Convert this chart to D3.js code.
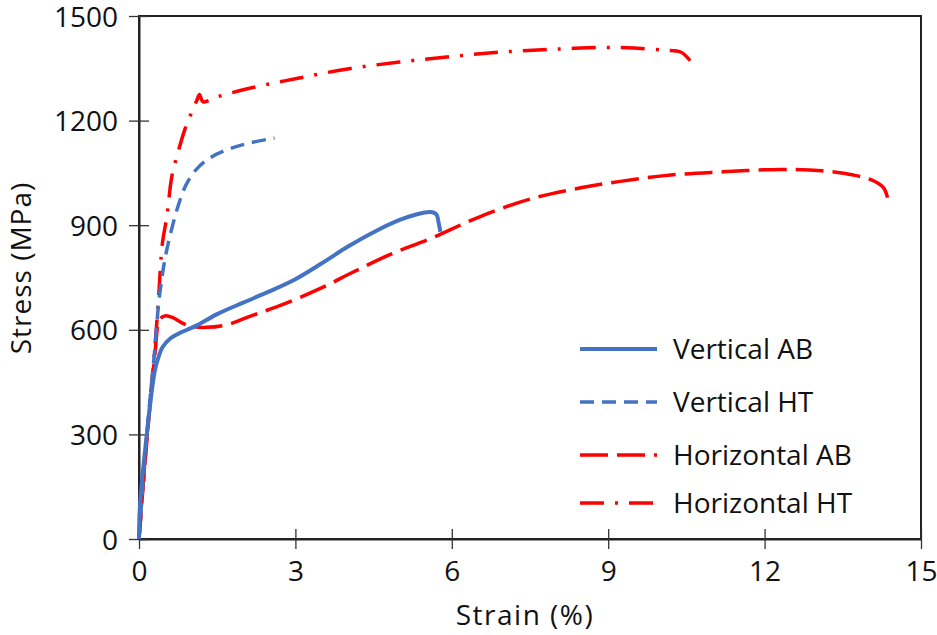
<!DOCTYPE html>
<html><head><meta charset="utf-8">
<script src="https://cdn.jsdelivr.net/npm/d3@7"></script>
<style>
body{margin:0;background:#fff;}
text{font-family:"Open Sans",sans-serif;fill:#111;}
</style></head>
<body><svg id="c" width="937" height="635"></svg>
<script>
// ---- data ----
const xTicks = [0,3,6,9,12,15];
const yTicks = [0,300,600,900,1200,1500];

const vabStrain = [0,0.02,0.15,0.30,0.37,0.45,0.60,0.80,1.10,1.50,2.00,2.50,3.00,3.50,4.00,4.50,5.00,5.30,5.58,5.70,5.75,5.78];
const vabStress = [0,100,300,480,520,550,575,592,612,645,678,710,745,790,838,880,915,930,938,932,905,881];

const vhtStrain = [0,0.15,0.30,0.38,0.45,0.52,0.62,0.75,0.90,1.10,1.35,1.70,2.10,2.60];
const vhtStress = [0,300,540,680,760,820,885,955,1015,1060,1092,1117,1135,1150];

const habStrain = [0,0.15,0.30,0.40,0.50,0.65,0.80,1.00,1.30,1.70,2.10,2.80,3.50,4.10,4.80,5.60,6.50,7.50,8.50,9.20,10.20,11.20,12.30,13.10,13.70,14.05,14.28,14.37];
const habStress = [0,280,520,630,640,635,622,610,607,615,637,675,720,765,815,862,922,975,1008,1025,1044,1053,1060,1056,1044,1030,1008,972];

const hhtStrain = [0,0.15,0.30,0.37,0.45,0.53,0.63,0.75,0.88,1.00,1.12,1.16,1.23,1.50,2.10,3.00,4.00,5.00,6.00,7.00,8.00,9.00,9.50,10.05,10.40,10.60];
const hhtStress = [0,290,540,680,850,920,1040,1110,1175,1220,1262,1275,1254,1268,1292,1320,1348,1368,1384,1397,1405,1410,1408,1402,1396,1366];

const seriesNames = ["Vertical AB","Vertical HT","Horizontal AB","Horizontal HT"];

// ---- chart ----
const svg = d3.select("#c");
const x = d3.scaleLinear().domain([0,15]).range([139,921]);
const y = d3.scaleLinear().domain([0,1500]).range([539,16]);

const blue = "#4472C4", red = "#FF0000";
const styles = [
  {color:blue, dash:null, w:4},
  {color:blue, dash:"14,8", w:3.5},
  {color:red, dash:"28,9", w:3.5},
  {color:red, dash:"24,11,3,11", w:3.5}
];
const data = [
  vabStrain.map((d,i)=>[d,vabStress[i]]),
  vhtStrain.map((d,i)=>[d,vhtStress[i]]),
  habStrain.map((d,i)=>[d,habStress[i]]),
  hhtStrain.map((d,i)=>[d,hhtStress[i]])
];

// frame
svg.append("rect").attr("x",x(0)).attr("y",y(1500)).attr("width",x(15)-x(0)).attr("height",y(0)-y(1500))
  .attr("fill","none").attr("stroke","#222").attr("stroke-width",2);

// axes
const fmt = d3.format("d");
const ax = svg.append("g").attr("transform",`translate(0,${y(0)})`)
  .call(d3.axisBottom(x).tickValues(xTicks).tickFormat(fmt).tickSize(10).tickPadding(12).tickSizeOuter(0));
ax.selectAll(".tick line").attr("y1",-10).attr("y2",10).attr("stroke","#333").attr("stroke-width",1.3);
const ay = svg.append("g").attr("transform",`translate(${x(0)},0)`)
  .call(d3.axisLeft(y).tickValues(yTicks).tickFormat(fmt).tickSize(10).tickPadding(11).tickSizeOuter(0));
ay.selectAll(".tick line").attr("x1",-10).attr("x2",10).attr("stroke","#333").attr("stroke-width",1.3);
[ax,ay].forEach(g=>{
  g.select(".domain").attr("stroke","#222").attr("stroke-width",2);
  g.selectAll(".tick text").style("font-family","'Open Sans', sans-serif").style("font-size","28px").attr("fill","#111");
});
ax.selectAll(".tick text").attr("dy","0.72em");
ay.selectAll(".tick text").attr("dy","0.36em");

// axis titles
svg.append("text").attr("x",525).attr("y",625).attr("text-anchor","middle").style("font-size","28px")
  .style("letter-spacing","1.5px").text("Strain (%)");
svg.append("text").attr("transform","translate(31,268) rotate(-90)").attr("text-anchor","middle").style("font-size","28px")
  .style("letter-spacing","1px").text("Stress (MPa)");

// lines
const line = d3.line().x(d=>x(d[0])).y(d=>y(d[1])).curve(d3.curveCatmullRom.alpha(0.5));
const order = [2,3,1,0];
order.forEach(i=>{
  svg.append("path").datum(data[i]).attr("d",line).attr("fill","none")
    .attr("stroke",styles[i].color).attr("stroke-width",styles[i].w)
    .attr("stroke-dasharray",styles[i].dash).attr("stroke-linejoin","round");
});

// legend
const legY = [349,402,455,503];
seriesNames.forEach((n,i)=>{
  svg.append("line").attr("x1",580).attr("x2",657).attr("y1",legY[i]).attr("y2",legY[i])
    .attr("stroke",styles[i].color).attr("stroke-width",styles[i].w).attr("stroke-dasharray",styles[i].dash);
  svg.append("text").attr("x",673).attr("y",legY[i]+10).style("font-size","28px").text(n);
});
</script></body></html>
